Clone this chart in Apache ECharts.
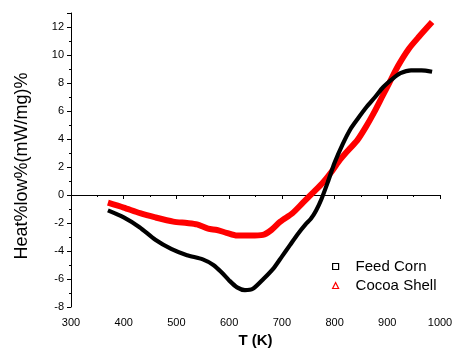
<!DOCTYPE html>
<html><head><meta charset="utf-8">
<script src="https://cdn.jsdelivr.net/npm/echarts@6/dist/echarts.min.js"></script>
<style>html,body{margin:0;padding:0;background:#fff}#c{width:454px;height:348px}</style>
</head><body><div id="c"></div>
<script>
const cornT = [370,400,430,460,490,520,550,570,585,600,615,630,645,665,685,700,715,730,745,755,765,775,787,800,815,830,845,861,877,892,910,925,945,965,985];
const cornV = [-1.1,-1.6,-2.3,-3.2,-3.85,-4.3,-4.6,-5.0,-5.5,-6.1,-6.6,-6.8,-6.7,-6.0,-5.2,-4.4,-3.6,-2.8,-2.1,-1.7,-1.1,-0.3,0.9,2.3,3.6,4.7,5.5,6.3,7.0,7.7,8.3,8.7,8.9,8.9,8.8];
const cocoaT = [370,400,431,460,494,520,539,560,577,595,615,640,664,680,697,720,740,760,778,795,810,826,843,860,875,890,905,920,940,960,985];
const cocoaV = [-0.55,-0.9,-1.3,-1.6,-1.9,-2.0,-2.1,-2.4,-2.5,-2.7,-2.9,-2.9,-2.85,-2.5,-1.9,-1.3,-0.55,0.2,0.9,1.7,2.5,3.2,3.9,4.9,5.9,7.0,8.1,9.2,10.4,11.3,12.35];
const seriesNames = ['Feed Corn','Cocoa Shell'];
const xTitle = 'T (K)';
const yTitle = 'Heat%low%(mW/mg)%';

const zip = (a,b)=>a.map((v,i)=>[v,b[i]]);
const chart = echarts.init(document.getElementById('c'), null, {renderer:'canvas'});
const fontFam = 'Liberation Sans, Arial, sans-serif';
chart.setOption({
  animation:false,
  backgroundColor:'#fff',
  grid:{left:71,right:14,top:13,bottom:41,outerBoundsMode:'none',containLabel:false},
  xAxis:{type:'value',min:300,max:1000,interval:100,
    name:xTitle,nameLocation:'middle',nameGap:24,
    nameTextStyle:{fontFamily:fontFam,fontSize:15,fontWeight:'bold',color:'#000',verticalAlign:'top'},
    axisLine:{lineStyle:{color:'#000',width:1}},
    axisTick:{inside:false,length:4,lineStyle:{color:'#000'}},
    minorTick:{show:true,splitNumber:2,length:2,lineStyle:{color:'#000'}},
    splitLine:{show:false},
    axisLabel:{fontFamily:fontFam,fontSize:11,color:'#000',margin:10,formatter:v=>String(v)}},
  yAxis:{type:'value',min:-8,max:13,interval:2,
    name:yTitle,nameLocation:'middle',nameGap:40,nameRotate:90,
    nameTextStyle:{fontFamily:fontFam,fontSize:18,color:'#000',padding:[0,12,0,0]},
    axisLine:{show:true,lineStyle:{color:'#000',width:1}},
    axisTick:{inside:false,length:4,lineStyle:{color:'#000'}},
    minorTick:{show:true,splitNumber:2,length:2,lineStyle:{color:'#000'}},
    splitLine:{show:false},
    axisLabel:{fontFamily:fontFam,fontSize:11,color:'#000',margin:7,showMaxLabel:false}},
  legend:{orient:'vertical',left:327,top:254,itemWidth:6,itemHeight:6,itemGap:4,
    textStyle:{fontFamily:fontFam,fontSize:15,color:'#000',padding:[0,0,0,12]},
    data:[
      {name:seriesNames[0],icon:'rect',itemStyle:{color:'#fff',borderColor:'#000',borderWidth:1.2}},
      {name:seriesNames[1],icon:'triangle',itemStyle:{color:'#fff',borderColor:'#f00',borderWidth:1.2}}
    ]},
  series:[
    {name:seriesNames[0],type:'line',data:zip(cornT,cornV),smooth:0.25,showSymbol:false,
      lineStyle:{color:'#000',width:4.2},itemStyle:{color:'#000'},z:3},
    {name:seriesNames[1],type:'line',data:zip(cocoaT,cocoaV),smooth:0.25,showSymbol:false,
      lineStyle:{color:'#f00',width:6},itemStyle:{color:'#f00'},z:2}
  ]
});
</script></body></html>
